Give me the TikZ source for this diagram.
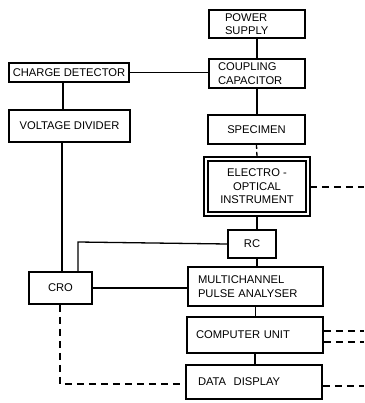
\documentclass[tikz,border=0pt]{standalone}
\usepackage{fontspec}
\setmainfont{Liberation Sans}
\usepackage{tikz}
\usetikzlibrary{calc}

\tikzset{
  blk/.style={draw, line width=1.6pt, inner ysep=2pt, align=center,
    font=\fontsize{11.2}{13.5}\selectfont},
  lblk/.style={blk, align=left, inner xsep=#1},
  link/.style={line width=1.3pt},
  dlink/.style={line width=1.3pt, dash pattern=on 7pt off 5pt}
}

\begin{document}
\begin{tikzpicture}[x=1pt, y=-1pt, line cap=butt, line join=miter]

	%====================
	% 1) page frame
	%====================
	\useasboundingbox (0,0) rectangle (364,403);

	%====================
	% 2) boxes
	%====================
	\node[lblk=16pt, text width=64pt,  minimum height=28pt] (power)    at (257,24)    {POWER\\SUPPLY};
	\node[lblk=9pt,  text width=78pt,  minimum height=29pt] (coupling) at (257,73.5)  {COUPLING\\CAPACITOR};
	\node[blk, minimum width=120pt, minimum height=19pt] (charge)   at (69,72.5)   {CHARGE DETECTOR};
	\node[blk, minimum width=121pt, minimum height=32pt] (voltage)  at (69.5,126)  {VOLTAGE DIVIDER};
	\node[blk, minimum width=97pt,  minimum height=29pt] (specimen) at (256.5,129.5) {SPECIMEN};

	% electro-optical instrument: double frame
	\node[blk, minimum width=98pt, minimum height=51pt] (electro) at (257,186.5)
		{ELECTRO -\\OPTICAL\\INSTRUMENT};
	\draw[line width=1.6pt] ($(electro.north west)+(-3,-3)$) rectangle ($(electro.south east)+(3,3)$);

	\node[blk, minimum width=48pt,  minimum height=28pt] (rc)       at (252,244)   {RC};
	\node[lblk=10pt, text width=115pt, minimum height=39pt] (multi)    at (255.5,286.5) {MULTICHANNEL\\PULSE ANALYSER};
	\node[lblk=9pt,  text width=118pt, minimum height=36pt] (computer) at (255,335)   {COMPUTER UNIT};
	\node[lblk=12pt, text width=112pt, minimum height=34pt] (display)  at (254,382)   {DATA\ \ DISPLAY};
	\node[blk, minimum width=63pt,  minimum height=32pt] (cro)      at (60.5,288)  {CRO};

	%====================
	% 3) solid connections
	%====================
	\draw[link] (power.south) -- (coupling.north);
	\draw[link] (charge.east) -- (coupling.west |- charge.east);
	\draw[link] ($(charge.south)+(-6,0)$) -- ($(voltage.north)+(-6.5,0)$);
	\draw[link] (coupling.south) -- (specimen.north -| coupling.south);
	\draw[link] ($(electro.south)+(0,3)$) -- (rc.north -| electro.south);
	\draw[link] (rc.south -| electro.south) -- (multi.north -| electro.south);
	\draw[link] ($(voltage.south)+(-7.5,0)$) -- ($(cro.north)+(1.5,0)$);
	\coordinate (rcbend) at (78,242);
	\draw[link] (rc.west) -- (rcbend) -- (rcbend |- cro.north);
	\draw[link] (cro.east) -- (multi.west |- cro.east);
	\draw[link] (multi.south) -- (computer.north -| multi.south);
	\draw[link] (computer.south) -- (display.north -| computer.south);

	%====================
	% 4) dashed connections
	%====================
	\coordinate (eoout)  at (364,187);
	\coordinate (cuout1) at (364,331);
	\coordinate (cuout2) at (364,342);
	\coordinate (ddout)  at (364,386);
	\coordinate (crobend) at (60,384);

	\draw[dlink, dash pattern=on 4pt off 3pt] (specimen.south) -- ($(electro.north)+(0,-3)$);
	\draw[dlink] ($(electro.east |- eoout)+(3,0)$) -- (eoout);
	\draw[dlink] (computer.east |- cuout1) -- (cuout1);
	\draw[dlink] (computer.east |- cuout2) -- (cuout2);
	\draw[dlink] (display.east |- ddout) -- (ddout);
	\draw[dlink] (cro.south -| crobend) -- (crobend) -- (display.west |- crobend);

\end{tikzpicture}
\end{document}
